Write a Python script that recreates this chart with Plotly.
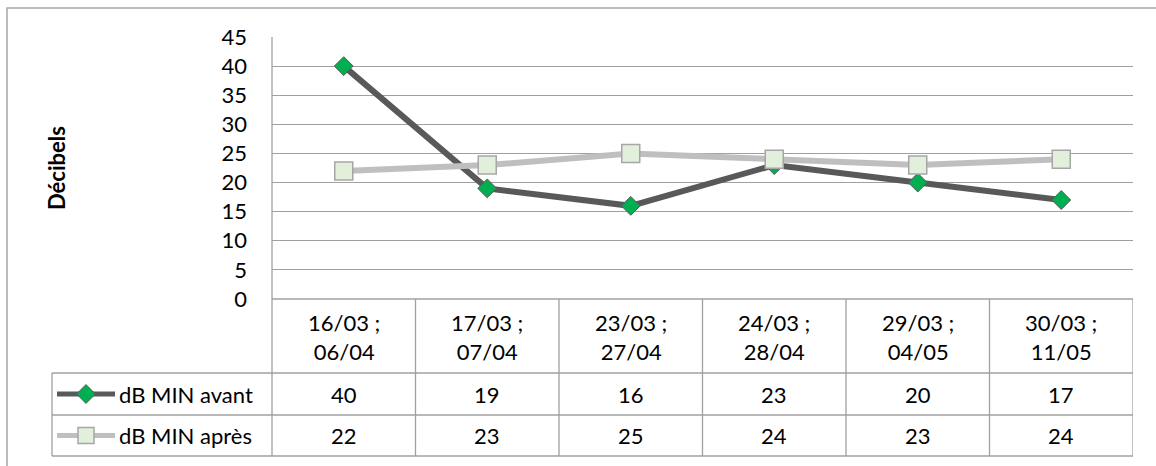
import plotly.graph_objects as go

W, H = 1156, 466

categories = ["16/03 ;<br>06/04", "17/03 ;<br>07/04", "23/03 ;<br>27/04",
              "24/03 ;<br>28/04", "29/03 ;<br>04/05", "30/03 ;<br>11/05"]
avant = [40, 19, 16, 23, 20, 17]
apres = [22, 23, 25, 24, 23, 24]
series_names = ["dB MIN avant", "dB MIN après"]
y_ticks = [0, 5, 10, 15, 20, 25, 30, 35, 40, 45]
y_title = "Décibels"

FONT = "Lato, Carlito, 'Liberation Sans', sans-serif"
FS = 22
GRID = "#A0A0A0"
DARK = "#595959"
LIGHT = "#BFBFBF"
GREEN = "#00B050"
PALE = "#E2EFDA"

def px(x):
    return x / W

def py(y):
    return 1 - y / H

# layout pixel positions
PL, PR, PT, PB = 272, 1133, 37, 299
ROW1, ROW2, ROW3 = 373, 415, 456
LEG_L = 52

n = len(categories)
xs = list(range(n))

styles = [
    dict(line=dict(color=DARK, width=6),
         marker=dict(symbol="diamond", size=14.5, color=GREEN, line=dict(color=DARK, width=1))),
    dict(line=dict(color=LIGHT, width=6),
         marker=dict(symbol="square", size=18, color=PALE, line=dict(color="#A6A6A6", width=1.5))),
]
key_styles = [
    dict(line=dict(color=DARK, width=5), marker=styles[0]["marker"]),
    dict(line=dict(color=LIGHT, width=5), marker=dict(styles[1]["marker"], size=16)),
]

fig = go.Figure()
for vals, name, st in zip([avant, apres], series_names, styles):
    fig.add_trace(go.Scatter(x=xs, y=vals, mode="lines+markers", name=name,
                             line=st["line"], marker=st["marker"],
                             xaxis="x", yaxis="y", showlegend=False, cliponaxis=False))

# legend keys inside the table (pixel axis)
row_centers = [(ROW1 + ROW2) / 2, (ROW2 + ROW3) / 2]
for rc, st in zip(row_centers, key_styles):
    fig.add_trace(go.Scatter(x=[57, 115], y=[rc, rc], mode="lines", line=st["line"],
                             xaxis="x2", yaxis="y2", showlegend=False, hoverinfo="skip"))
    fig.add_trace(go.Scatter(x=[86], y=[rc], mode="markers", marker=st["marker"],
                             xaxis="x2", yaxis="y2", showlegend=False, hoverinfo="skip"))

shapes = []
def hline(x0, x1, y, color=GRID, width=1.3):
    shapes.append(dict(type="line", xref="paper", yref="paper", x0=px(x0), x1=px(x1),
                       y0=py(y), y1=py(y), line=dict(color=color, width=width), layer="below"))

def vline(x, y0, y1, color=GRID, width=1.3, xref="paper"):
    xv = px(x) if xref == "paper" else x
    shapes.append(dict(type="line", xref=xref, yref="paper", x0=xv, x1=xv,
                       y0=py(y0), y1=py(y1), line=dict(color=color, width=width), layer="below"))

# outer chart border (cut by the image edge)
shapes.append(dict(type="rect", xref="paper", yref="paper", x0=px(7), x1=px(W + 10),
                   y0=py(H + 10), y1=py(8), line=dict(color="#A6A6A6", width=1.5), layer="below"))

# table rows
hline(PL, PR, PB)
for y in (ROW1, ROW2, ROW3):
    hline(LEG_L, PR, y)
vline(PL, PT, ROW3)
vline(LEG_L, ROW1, ROW3)
for i in range(1, n + 1):
    vline(i - 0.5, PB, ROW3, xref="x")

annotations = []
for i, c in enumerate(categories):
    annotations.append(dict(x=i, y=py((PB + ROW1) / 2 + 1), xref="x", yref="paper", text=c,
                            showarrow=False, font=dict(family=FONT, size=FS, color="black"),
                            xanchor="center", yanchor="middle", align="center"))
for vals, rc in zip([avant, apres], row_centers):
    for i, v in enumerate(vals):
        annotations.append(dict(x=i, y=py(rc), xref="x", yref="paper", text=str(v),
                                showarrow=False, font=dict(family=FONT, size=FS, color="black"),
                                xanchor="center", yanchor="middle"))
for name, rc in zip(series_names, row_centers):
    annotations.append(dict(x=px(117), y=py(rc), xref="paper", yref="paper", text=name,
                            showarrow=False, font=dict(family=FONT, size=FS, color="black"),
                            xanchor="left", yanchor="middle"))
annotations.append(dict(x=px(57), y=py((PT + PB) / 2), xref="paper", yref="paper", text="<b>" + y_title + "</b>",
                        textangle=-90, showarrow=False, font=dict(family=FONT, size=FS, color="black"),
                        xanchor="center", yanchor="middle"))

fig.update_layout(
    width=W, height=H, margin=dict(l=0, r=0, t=0, b=0, pad=0), autosize=False,
    paper_bgcolor="white", plot_bgcolor="rgba(0,0,0,0)",
    xaxis=dict(domain=[px(PL), px(PR)], range=[-0.5, n - 0.5], showgrid=False, zeroline=False,
               showticklabels=False, showline=False, fixedrange=True, automargin=False),
    yaxis=dict(domain=[py(PB), py(PT)], range=[0, 45], tickvals=y_ticks,
               showgrid=True, gridcolor=GRID, gridwidth=1.3, zeroline=False, showline=False,
               tickfont=dict(family=FONT, size=FS, color="black"), ticklabelstandoff=24,
               automargin=False),
    xaxis2=dict(domain=[0, 1], range=[0, W], visible=False, anchor="y2", automargin=False),
    yaxis2=dict(domain=[0, 1], range=[H, 0], visible=False, anchor="x2", automargin=False),
    shapes=shapes, annotations=annotations,
)

fig.write_html("out.html", config={"displayModeBar": False},
               post_script="document.body.style.margin='0';document.body.style.overflow='hidden';")
